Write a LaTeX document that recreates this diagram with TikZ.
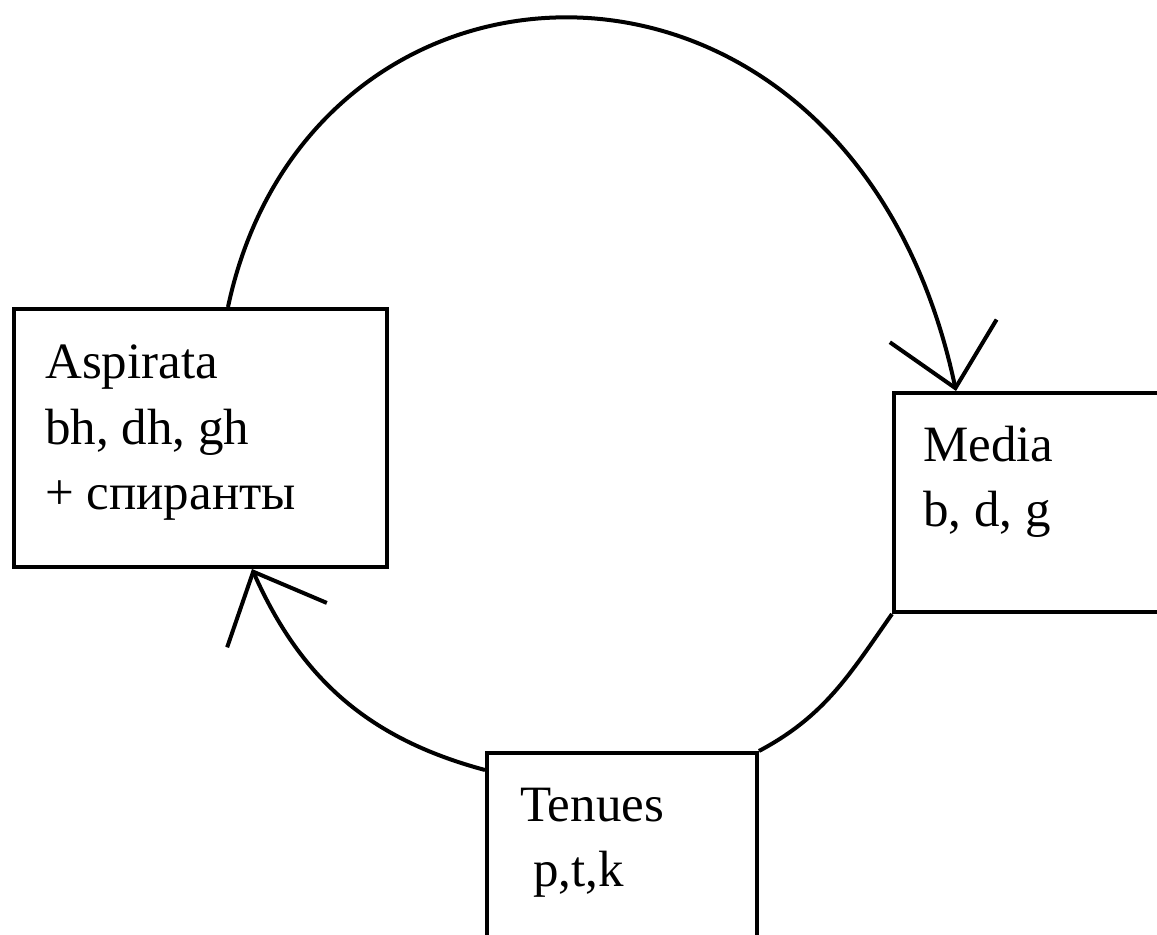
\documentclass[tikz,border=0pt]{standalone}
\usepackage{fontspec}
\setmainfont{Liberation Serif}
\usetikzlibrary{arrows.meta}
\tikzset{
  soundbox/.style={draw, rectangle, line width=0.08cm, inner sep=0pt},
  soundtext/.style={align=left, anchor=base west, inner sep=0pt, font=\fontsize{29}{37.3}\selectfont},
  cyclearc/.style={line width=0.08cm},
  cyclearrow/.style={cyclearc, -{Straight Barb[angle=86:1.6cm, line width=0.08cm]}}
}
\begin{document}
\begin{tikzpicture}
    \useasboundingbox (0,0) rectangle (23.14,18.7);
    \clip (0,0) rectangle (23.14,18.7);
    % the three series
    \node[soundbox, minimum width=7.46cm, minimum height=5.16cm] (asp) at (4.01,9.94) {};
    \node[soundbox, minimum width=5.92cm, minimum height=4.38cm] (med) at (20.84,8.65) {};
    \node[soundbox, minimum width=5.4cm, minimum height=4.14cm] (ten) at (12.44,1.57) {};
    \node[soundtext] (asptext) at (0.9,8.5) {Aspirata\\bh, dh, gh\\+ спиранты};
    \node[soundtext] (medtext) at (18.46,8.16) {Media\\b, d, g};
    \node[soundtext] (tentext) at (10.4,0.96) {Tenues\\\ p,t,k};
    % the shift round the circle
    \draw[cyclearrow] ([xshift=0.55cm]asp.north) to[out=78, in=102, out looseness=1.4, in looseness=1.75] ([xshift=1.28cm]med.north west);
    \draw[cyclearc] (med.south west) to[out=235, in=28] (ten.north east);
    \draw[cyclearrow] ([yshift=-0.38cm]ten.north west) to[out=165, in=-66] ([xshift=1.03cm]asp.south);
\end{tikzpicture}
\end{document}
